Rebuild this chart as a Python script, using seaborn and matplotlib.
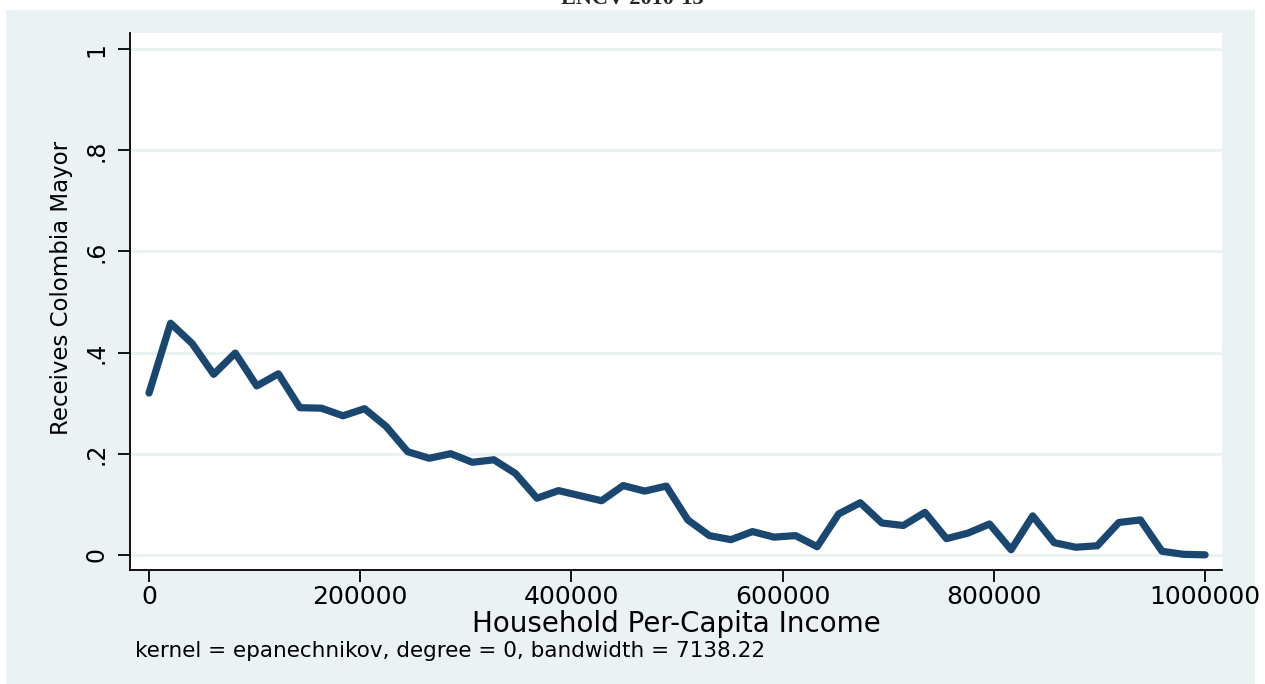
import numpy as np
import pandas as pd
import seaborn as sns
import matplotlib
matplotlib.use("Agg")
import matplotlib.pyplot as plt
from matplotlib.patches import Rectangle

# Local-polynomial smooth evaluated on a 50-point income grid
income_grid = np.linspace(0, 1000000, 50)
share_receiving = [
    0.320, 0.458, 0.418, 0.357, 0.399, 0.334, 0.358, 0.291, 0.290, 0.275,
    0.289, 0.254, 0.204, 0.191, 0.200, 0.183, 0.188, 0.161, 0.112, 0.127,
    0.117, 0.107, 0.137, 0.126, 0.136, 0.069, 0.038, 0.030, 0.046, 0.035,
    0.038, 0.016, 0.081, 0.103, 0.063, 0.058, 0.084, 0.032, 0.043, 0.061,
    0.010, 0.077, 0.024, 0.015, 0.018, 0.064, 0.069, 0.007, 0.001, 0.000,
]
x_ticks = [0, 200000, 400000, 600000, 800000, 1000000]
x_tick_labels = ["0", "200000", "400000", "600000", "800000", "1000000"]
y_ticks = [0, 0.2, 0.4, 0.6, 0.8, 1.0]
y_tick_labels = ["0", ".2", ".4", ".6", ".8", "1"]

title_text = "ENCV 2010-13"
x_label = "Household Per-Capita Income"
y_label = "Receives Colombia Mayor"
note_text = "kernel = epanechnikov, degree = 0, bandwidth = 7138.22"

df = pd.DataFrame({"income": income_grid, "share": share_receiving})

sns.set_theme(style="white")
plt.rcParams["font.family"] = ["DejaVu Sans"]

W, H = 1265, 684
fig = plt.figure(figsize=(W / 100, H / 100), dpi=100)
fig.patch.set_facecolor("white")

bg = "#EAF2F3"
navy = "#1A476F"

# Graph-region background panel, kept behind the plot region
fig.patches.append(Rectangle((6 / W, 0), (1255 - 6) / W, 1 - 10 / H,
                             transform=fig.transFigure, facecolor=bg,
                             edgecolor="none", zorder=-10))

ax = fig.add_axes([130 / W, 1 - 570 / H, (1222 - 130) / W, (570 - 33) / H])
ax.set_zorder(5)
ax.set_facecolor("white")

sns.lineplot(data=df, x="income", y="share", ax=ax, color=navy,
             linewidth=5.2, solid_capstyle="round", solid_joinstyle="round",
             zorder=3)

ax.set_xlim(-18000, 1016000)
ax.set_ylim(-0.03, 1.032)

for yv in y_ticks:
    ax.axhline(yv, color=bg, linewidth=2.2, zorder=1)

ax.set_xticks(x_ticks)
ax.set_xticklabels(x_tick_labels, fontsize=18)
ax.set_yticks(y_ticks)
ax.set_yticklabels(y_tick_labels, fontsize=17, rotation=90, va="center")

ax.tick_params(axis="both", which="major", direction="out", length=8.5,
               width=1.3, color="black", labelcolor="black")
ax.tick_params(axis="x", bottom=True, pad=2)
ax.tick_params(axis="y", left=True, pad=7)

for side in ["top", "right"]:
    ax.spines[side].set_visible(False)
for side in ["left", "bottom"]:
    ax.spines[side].set_visible(True)
    ax.spines[side].set_color("black")
    ax.spines[side].set_linewidth(1.3)

ax.set_xlabel(x_label, fontsize=20, color="black", labelpad=1)
ax.set_ylabel(y_label, fontsize=16.5, color="black")
ax.yaxis.set_label_coords(-0.052, 0.525)

fig.text(135 / W, 1 - 651 / H, note_text, fontsize=15.5, color="black",
         ha="left", va="center")

fig.text(0.5, 1 - 4 / H, title_text, ha="center", va="baseline",
         fontsize=16, fontweight="bold",
         family=["Liberation Serif", "DejaVu Serif"])

fig.savefig("out.png", dpi=100, facecolor=fig.get_facecolor())
